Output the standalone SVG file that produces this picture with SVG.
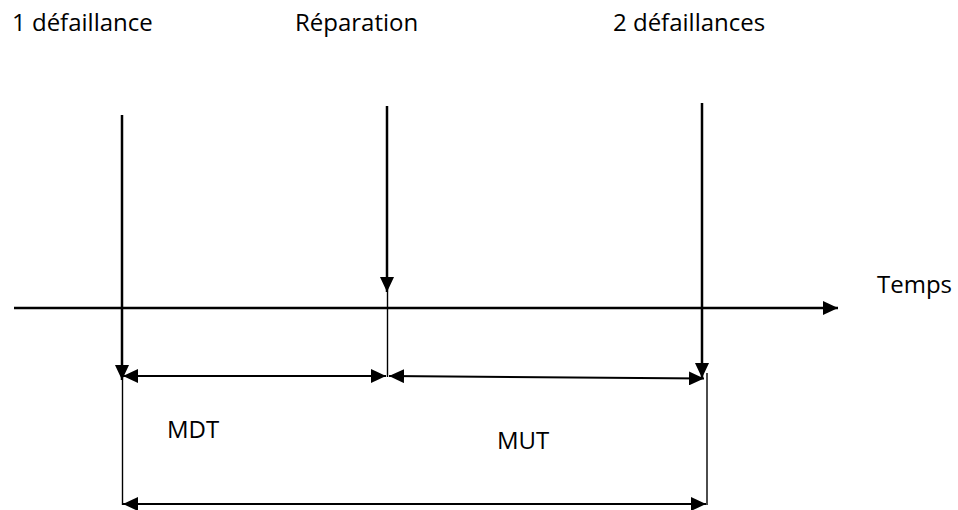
<svg xmlns="http://www.w3.org/2000/svg" width="958" height="510" viewBox="0 0 958 510">
  <style>
    .lbl { font-family: "Open Sans", "Liberation Sans", sans-serif; font-size: 24px; fill: #000; }
    .thick { stroke: #000; stroke-width: 2.5; fill: none; }
    .mid { stroke: #000; stroke-width: 2; fill: none; }
    .thin { stroke: #000; stroke-width: 1.4; fill: none; }
  </style>
  <defs>
    <marker id="ah" markerUnits="userSpaceOnUse" markerWidth="16" markerHeight="14" refX="15" refY="7" orient="auto-start-reverse">
      <path d="M0,0 L15,7 L0,14 z" fill="#000"/>
    </marker>
  </defs>
  <rect width="958" height="510" fill="#fff"/>

  <g id="labels">
    <text class="lbl" x="12" y="31">1 défaillance</text>
    <text class="lbl" x="295" y="31">Réparation</text>
    <text class="lbl" x="613" y="31">2 défaillances</text>
    <text class="lbl" x="877" y="293">Temps</text>
    <text class="lbl" x="167" y="438">MDT</text>
    <text class="lbl" x="497" y="449">MUT</text>
  </g>

  <g id="connectors">
    <!-- time axis -->
    <line class="thick" x1="14" y1="308" x2="838" y2="308" marker-end="url(#ah)"/>
    <!-- event arrows -->
    <line class="thick" x1="122" y1="115" x2="122" y2="380" marker-end="url(#ah)"/>
    <line class="thick" x1="387" y1="106" x2="387" y2="292" marker-end="url(#ah)"/>
    <line class="thick" x1="702" y1="103" x2="702" y2="378" marker-end="url(#ah)"/>
    <!-- guide lines -->
    <line class="thin" x1="122.5" y1="380" x2="122.5" y2="505"/>
    <line class="thin" x1="387.5" y1="292" x2="387.5" y2="377"/>
    <line class="thin" x1="707" y1="373" x2="707" y2="505"/>
    <!-- durations -->
    <line class="mid" x1="123" y1="376" x2="386" y2="376" marker-start="url(#ah)" marker-end="url(#ah)"/>
    <line class="mid" x1="389" y1="376" x2="704" y2="378.5" marker-start="url(#ah)" marker-end="url(#ah)"/>
    <line class="mid" x1="123" y1="504" x2="706" y2="504" marker-start="url(#ah)" marker-end="url(#ah)"/>
  </g>
</svg>
